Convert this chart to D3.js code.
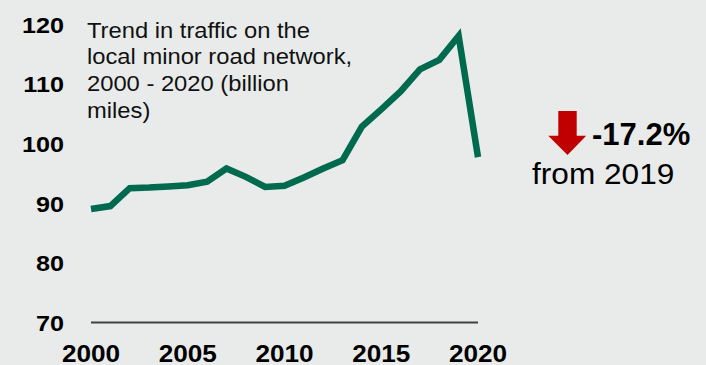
<!DOCTYPE html>
<html>
<head>
<meta charset="utf-8">
<script src="https://cdn.jsdelivr.net/npm/d3@7"></script>
<style>
  html, body { margin: 0; padding: 0; background: #e8ebea; }
  svg { display: block; font-family: "Liberation Sans", Arial, sans-serif; }
</style>
</head>
<body>
<svg id="chart" width="706" height="365"></svg>
<script>
// ---- data ----
const years = [2000, 2001, 2002, 2003, 2004, 2005, 2006, 2007, 2008, 2009, 2010,
               2011, 2012, 2013, 2014, 2015, 2016, 2017, 2018, 2019, 2020];
const traffic = [89.0, 89.5, 92.5, 92.6, 92.8, 93.0, 93.6, 95.8, 94.4, 92.7, 92.9,
                 94.3, 95.8, 97.2, 102.8, 105.7, 108.7, 112.4, 114.0, 118.0, 97.7];
const yTicks = [70, 80, 90, 100, 110, 120];
const xTicks = [2000, 2005, 2010, 2015, 2020];
const titleLines = ["Trend in traffic on the", "local minor road network,", "2000 - 2020 (billion", "miles)"];
const changeLabel = "-17.2%";
const changeSub = "from 2019";

// ---- layout ----
const svg = d3.select("#chart");
const x = d3.scaleLinear().domain([2000, 2020]).range([91, 478]);
const y = d3.scaleLinear().domain([70, 120]).range([322.5, 24]);

// baseline axis line at 70
svg.append("line")
  .attr("x1", x(2000)).attr("x2", x(2020))
  .attr("y1", y(70)).attr("y2", y(70))
  .attr("stroke", "#404040").attr("stroke-width", 2.2);

// y tick labels (slightly widened glyphs, as in the reference)
svg.append("g").selectAll("text").data(yTicks).join("text")
  .attr("transform", d => `translate(64,${y(d) + 8.5}) scale(1.12,1)`)
  .attr("text-anchor", "end")
  .attr("font-weight", "bold").attr("font-size", 22.5).attr("fill", "#000")
  .text(d => d);

// x tick labels
svg.append("g").selectAll("text").data(xTicks).join("text")
  .attr("transform", d => `translate(${x(d)},362) scale(1.09,1)`)
  .attr("text-anchor", "middle")
  .attr("font-weight", "bold").attr("font-size", 24).attr("fill", "#000")
  .text(d => d);

// line
const line = d3.line().x((d, i) => x(years[i])).y(d => y(d));
svg.append("path")
  .datum(traffic)
  .attr("d", line)
  .attr("fill", "none")
  .attr("stroke", "#006a4e")
  .attr("stroke-width", 6.5)
  .attr("stroke-linejoin", "miter");

// title
svg.append("g").selectAll("text").data(titleLines).join("text")
  .attr("transform", (d, i) => `translate(87,${37.5 + i * 26.8}) scale(1.08,1)`)
  .attr("font-size", 22).attr("fill", "#111")
  .text(d => d);

// arrow
const ax = 567.5;
svg.append("path")
  .attr("d", `M${ax - 9.2},111 L${ax + 9.2},111 L${ax + 9.2},135.7 L${ax + 18.7},135.7 L${ax},155 L${ax - 19.2},135.7 L${ax - 9.2},135.7 Z`)
  .attr("fill", "#c00000");

svg.append("text")
  .attr("transform", "translate(592,145)")
  .attr("font-weight", "bold").attr("font-size", 31).attr("fill", "#000")
  .text(changeLabel);

svg.append("text")
  .attr("transform", "translate(532,184) scale(1.09,1)")
  .attr("font-size", 29).attr("fill", "#000")
  .text(changeSub);
</script>
</body>
</html>
